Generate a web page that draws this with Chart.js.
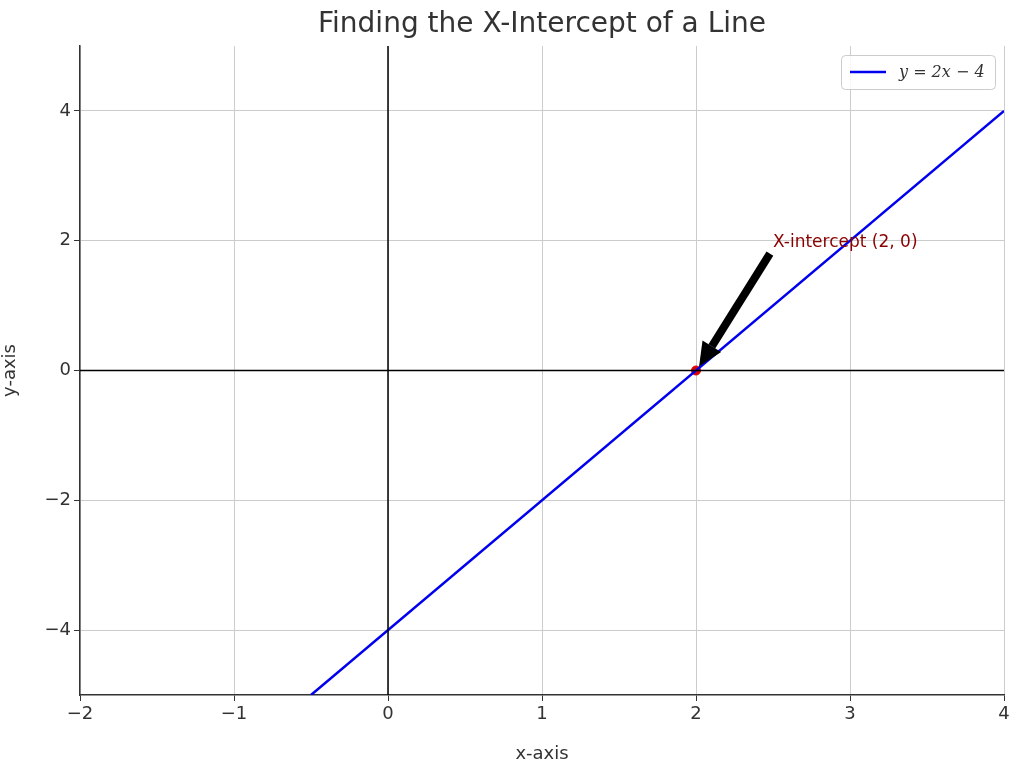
<!DOCTYPE html>
<html>
<head>
<meta charset="utf-8">
<script src="https://cdn.jsdelivr.net/npm/chart.js@4"></script>
<style>
  html, body { margin: 0; padding: 0; background: #fff; }
  #wrap { width: 1024px; height: 765px; }
</style>
</head>
<body>
<div id="wrap"><canvas id="c"></canvas></div>
<script>
// line y = 2x - 4, visible part inside the window
const lineX = [-0.5, 4];
const lineY = [-5, 4];
const xTicks = [-2, -1, 0, 1, 2, 3, 4];
const yTicks = [-4, -2, 0, 2, 4];
const intercept = [2, 0];
const labelPos = [2.5, 2.0];
const arrowTail = [2.48, 1.8];

const fmt = v => (v < 0 ? '\u2212' + Math.abs(v) : String(v));

// title, arrow, annotation, legend
const extras = {
  id: 'extras',
  afterDatasetsDraw(chart) {
    const { ctx, scales: { x, y }, chartArea: a } = chart;
    ctx.save();
    ctx.fillStyle = '#333';
    ctx.font = '28px "DejaVu Sans"';
    ctx.textAlign = 'center';
    ctx.textBaseline = 'middle';
    ctx.fillText('Finding the X-Intercept of a Line', (a.left + a.right) / 2, 25);

    // arrow
    const x0 = x.getPixelForValue(arrowTail[0]), y0 = y.getPixelForValue(arrowTail[1]);
    const x1 = x.getPixelForValue(intercept[0] + 0.02), y1 = y.getPixelForValue(intercept[1] + 0.06);
    const ang = Math.atan2(y1 - y0, x1 - x0);
    const head = 24, hw = 11;
    const bx = x1 - head * Math.cos(ang), by = y1 - head * Math.sin(ang);
    ctx.strokeStyle = '#000';
    ctx.lineWidth = 8;
    ctx.beginPath(); ctx.moveTo(x0, y0); ctx.lineTo(bx, by); ctx.stroke();
    ctx.fillStyle = '#000';
    ctx.beginPath();
    ctx.moveTo(x1, y1);
    ctx.lineTo(bx + hw * Math.sin(ang), by - hw * Math.cos(ang));
    ctx.lineTo(bx - hw * Math.sin(ang), by + hw * Math.cos(ang));
    ctx.closePath(); ctx.fill();

    ctx.fillStyle = '#8b0000';
    ctx.font = '17px "DejaVu Sans"';
    ctx.textAlign = 'left';
    ctx.textBaseline = 'alphabetic';
    ctx.fillText('X-intercept (2, 0)', x.getPixelForValue(labelPos[0]), y.getPixelForValue(labelPos[1]) + 6);

    // legend box
    const lx = a.right - 163, ly = a.top + 9, lw = 154, lh = 34;
    ctx.fillStyle = 'rgba(255,255,255,0.85)';
    ctx.strokeStyle = '#ccc';
    ctx.lineWidth = 1;
    ctx.beginPath(); ctx.roundRect(lx + 0.5, ly + 0.5, lw, lh, 4); ctx.fill(); ctx.stroke();
    ctx.strokeStyle = '#0000ee';
    ctx.lineWidth = 2.5;
    ctx.beginPath(); ctx.moveTo(lx + 9, ly + 17); ctx.lineTo(lx + 45, ly + 17); ctx.stroke();
    ctx.fillStyle = '#333';
    ctx.font = 'italic 16px "DejaVu Serif"';
    ctx.textBaseline = 'middle';
    ctx.fillText('y = 2x \u2212 4', lx + 58, ly + 18);
    ctx.restore();
  }
};

new Chart(document.getElementById('c'), {
  type: 'scatter',
  data: {
    datasets: [
      { data: [{ x: -2, y: 0 }, { x: 4, y: 0 }], showLine: true, borderColor: '#000', borderWidth: 1.5, pointRadius: 0 },
      { data: [{ x: 0, y: -5 }, { x: 0, y: 5 }], showLine: true, borderColor: '#000', borderWidth: 1.5, pointRadius: 0 },
      { data: lineX.map((v, i) => ({ x: v, y: lineY[i] })), showLine: true, borderColor: '#0000ee', borderWidth: 2.5, pointRadius: 0 },
      { data: [{ x: intercept[0], y: intercept[1] }], pointRadius: 4.5, backgroundColor: '#dd0000', borderColor: '#dd0000' }
    ]
  },
  options: {
    responsive: true,
    maintainAspectRatio: false,
    animation: false,
    layout: { padding: { top: 46, right: 20 } },
    plugins: { legend: { display: false }, tooltip: { enabled: false } },
    scales: {
      x: {
        min: -2, max: 4,
        afterBuildTicks: s => { s.ticks = xTicks.map(v => ({ value: v })); },
        afterFit: s => { s.height = 70; },
        grid: { color: '#cccccc', tickColor: '#333', tickLength: 6 },
        border: { color: '#333', width: 1.5, dash: [] },
        ticks: { color: '#333', font: { size: 18, family: 'DejaVu Sans' }, callback: fmt, maxRotation: 0 },
        title: { display: true, text: 'x-axis', color: '#333', font: { size: 18, family: 'DejaVu Sans' }, padding: 0 }
      },
      y: {
        min: -5, max: 5,
        afterBuildTicks: s => { s.ticks = yTicks.map(v => ({ value: v })); },
        afterFit: s => { s.width = 80; },
        grid: { color: '#cccccc', tickColor: '#333', tickLength: 6 },
        border: { color: '#333', width: 1.5 },
        ticks: { color: '#333', font: { size: 18, family: 'DejaVu Sans' }, callback: fmt },
        title: { display: true, text: 'y-axis', color: '#333', font: { size: 18, family: 'DejaVu Sans' }, padding: 0 }
      }
    }
  },
  plugins: [extras, {
    id: 'dashgrid',
    beforeDraw(chart) {
      chart.options.scales.x.grid.borderDash = [4, 4];
    }
  }]
});
// dashed grid lines
Chart.defaults.scale.grid.borderDash = [4, 4];
</script>
</body>
</html>
